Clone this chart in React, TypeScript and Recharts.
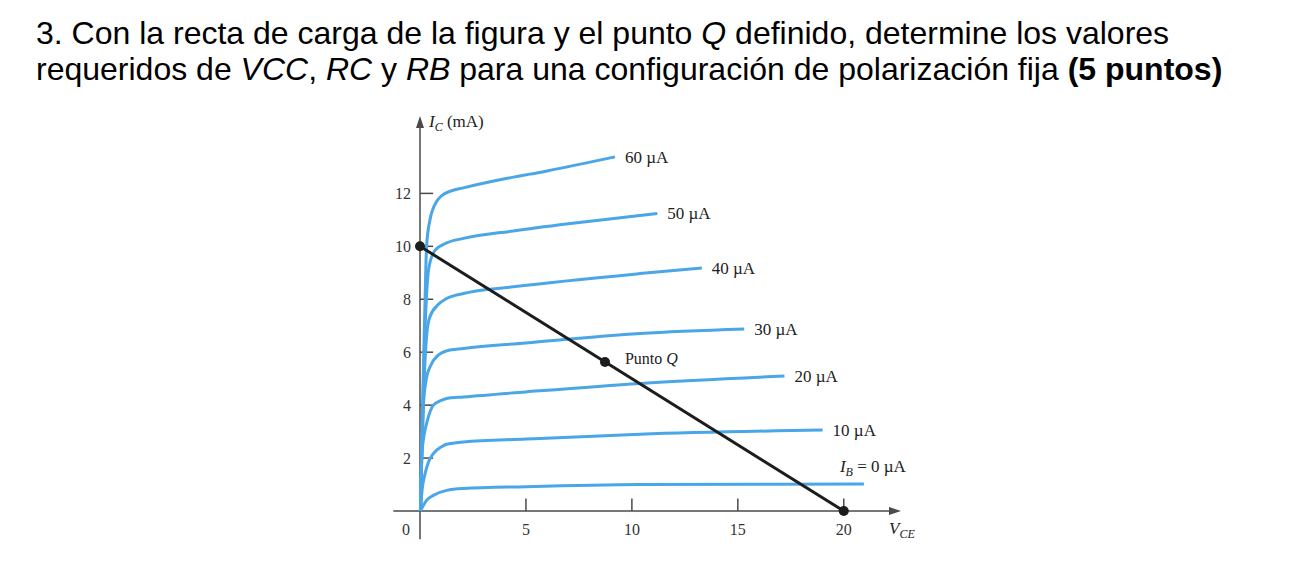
import { ComposedChart, Line, XAxis, YAxis, ReferenceLine, ReferenceDot } from 'recharts'

// output curves: [VCE (V), IC (mA)]
const ib0 = [[0.02, 0], [0.15, 0.2], [0.31, 0.4], [0.63, 0.59], [1.26, 0.78], [2.05, 0.85], [5, 0.92], [10.38, 1.0], [20.95, 1.02]]
const ib10 = [[0.02, 0], [0.1, 0.8], [0.24, 1.41], [0.4, 1.85], [0.63, 2.17], [1.0, 2.42], [1.26, 2.52], [2.05, 2.61], [5, 2.72], [10.38, 2.9], [19, 3.06]]
const ib20 = [[0.02, 0], [0.08, 2], [0.2, 2.9], [0.31, 3.3], [0.63, 4.0], [1.0, 4.18], [1.26, 4.25], [2.05, 4.31], [5, 4.5], [10.38, 4.82], [17.2, 5.1]]
const ib30 = [[0.02, 0], [0.08, 2], [0.16, 4], [0.3, 5], [0.47, 5.44], [0.86, 5.89], [1.26, 6.05], [2.05, 6.14], [5, 6.35], [10.38, 6.71], [15.3, 6.88]]
const ib40 = [[0.02, 0], [0.1, 2.5], [0.2, 5], [0.3, 6.5], [0.45, 7.3], [0.86, 7.8], [1.26, 8.03], [2.05, 8.22], [4.4, 8.47], [10.38, 8.97], [13.3, 9.18]]
const ib50 = [[0.02, 0], [0.1, 3], [0.2, 6], [0.3, 8], [0.42, 9.2], [0.71, 9.85], [1.26, 10.13], [2.05, 10.3], [4.4, 10.58], [7, 10.85], [11.2, 11.24]]
const ib60 = [[0.02, 0], [0.1, 3], [0.18, 6], [0.24, 8], [0.31, 10], [0.47, 11], [0.79, 11.7], [1.0, 11.9], [1.5, 12.1], [2, 12.2], [4, 12.55], [6, 12.85], [9.2, 13.38]]

const curves = [ib0, ib10, ib20, ib30, ib40, ib50, ib60]
const curveLabels = ['0', '10 µA', '20 µA', '30 µA', '40 µA', '50 µA', '60 µA']

const loadLine = [[0, 10], [20, 0]]
const qPoint = [8.73, 5.63]

const xTicks = [0, 5, 10, 15, 20]
const yTicks = [2, 4, 6, 8, 10, 12]
const xMarks = [5, 10, 15, 20]

const BLUE = '#4aa6e6'
const INK = '#1d1d1d'
const AXIS = '#4a4a4a'
const SERIF = '"Liberation Serif", "Times New Roman", serif'

const toPts = (arr: number[][]) => arr.map(([vce, ic]) => ({ vce, ic }))

const XTick = ({ x, y, payload }: any) => (
  <text x={x + (payload.value === 0 ? -14 : 0)} y={y} dy="0.71em" textAnchor="middle" fontFamily={SERIF} fontSize={16} fill="#333">
    {payload.value}
  </text>
)

const YTick = ({ x, y, payload }: any) => (
  <text x={x} y={y} dy="0.35em" textAnchor="end" fontFamily={SERIF} fontSize={16} fill="#333">
    {payload.value}
  </text>
)

function CurveLabel({ cx, cy, text }: any) {
  if (text === '0') {
    return (
      <text x={cx - 24} y={cy - 12} fontFamily={SERIF} fontSize={17} fill="#222">
        <tspan fontStyle="italic">I</tspan>
        <tspan fontStyle="italic" fontSize={12} dy={4}>B</tspan>
        <tspan dy={-4}> = 0 µA</tspan>
      </text>
    )
  }
  return (
    <text x={cx + 10} y={cy} dy="0.35em" fontFamily={SERIF} fontSize={17} fill="#222">
      {text}
    </text>
  )
}

export default function App() {
  return (
    <div style={{ position: 'absolute', left: 0, top: 0, width: 1290, height: 562, background: '#fff' }}>
      <div
        style={{
          position: 'absolute',
          left: 36,
          top: 15,
          fontFamily: '"Liberation Sans", Arial, sans-serif',
          fontSize: 32,
          lineHeight: '36px',
          color: '#000',
          whiteSpace: 'nowrap',
        }}
      >
        <div>
          3. Con la recta de carga de la figura y el punto <i>Q</i> definido, determine los valores
        </div>
        <div>
          requeridos de <i>VCC</i>, <i>RC</i> y <i>RB</i> para una configuración de polarización fija <b>(5 puntos)</b>
        </div>
      </div>

      <div style={{ position: 'absolute', left: 0, top: 0 }}>
        <ComposedChart width={1290} height={562} margin={{ top: 114, right: 389, bottom: 21, left: 360 }}>
          <XAxis
            dataKey="vce"
            type="number"
            domain={[0, 22.7]}
            ticks={xTicks}
            axisLine={false}
            tickLine={false}
            tickSize={0}
            tickMargin={13}
            height={30}
            tick={<XTick />}
          />
          <YAxis
            type="number"
            domain={[0, 15]}
            ticks={yTicks}
            axisLine={false}
            tickLine={false}
            tickSize={0}
            tickMargin={9}
            width={60}
            tick={<YTick />}
          />

          {/* axes drawn through the origin, running a little past it */}
          <ReferenceLine segment={[{ x: -1.26, y: 0 }, { x: 22.2, y: 0 }]} stroke={AXIS} strokeWidth={1.5} ifOverflow="visible" />
          <ReferenceLine segment={[{ x: 0, y: -1.07 }, { x: 0, y: 14.5 }]} stroke={AXIS} strokeWidth={1.5} ifOverflow="visible" />
          {yTicks.map((v) => (
            <ReferenceLine key={'yt' + v} segment={[{ x: 0, y: v }, { x: 0.62, y: v }]} stroke={AXIS} strokeWidth={1.5} />
          ))}
          {xMarks.map((v) => (
            <ReferenceLine key={'xt' + v} segment={[{ x: v, y: 0 }, { x: v, y: 0.47 }]} stroke={AXIS} strokeWidth={1.5} />
          ))}

          <ReferenceDot
            x={0}
            y={14.92}
            ifOverflow="visible"
            shape={(p: any) => (
              <g>
                <path d={`M${p.cx},${p.cy} L${p.cx - 4},${p.cy + 12} L${p.cx + 4},${p.cy + 12} Z`} fill={AXIS} />
                <text x={p.cx + 9} y={p.cy + 11} fontFamily={SERIF} fontSize={17} fill="#222">
                  <tspan fontStyle="italic">I</tspan>
                  <tspan fontStyle="italic" fontSize={12} dy={4}>C</tspan>
                  <tspan dy={-4}> (mA)</tspan>
                </text>
              </g>
            )}
          />
          <ReferenceDot
            x={22.7}
            y={0}
            ifOverflow="visible"
            shape={(p: any) => (
              <g>
                <path d={`M${p.cx},${p.cy} L${p.cx - 12},${p.cy - 4} L${p.cx - 12},${p.cy + 4} Z`} fill={AXIS} />
                <text x={p.cx - 12} y={p.cy + 23} fontFamily={SERIF} fontSize={17} fill="#222">
                  <tspan fontStyle="italic">V</tspan>
                  <tspan fontStyle="italic" fontSize={12} dy={4}>CE</tspan>
                </text>
              </g>
            )}
          />

          {curves.map((c, i) => (
            <Line
              key={'ib' + i}
              data={toPts(c)}
              dataKey="ic"
              type="monotone"
              stroke={BLUE}
              strokeWidth={3}
              dot={false}
              isAnimationActive={false}
            />
          ))}
          {curves.map((c, i) => (
            <ReferenceDot
              key={'lb' + i}
              x={c[c.length - 1][0]}
              y={c[c.length - 1][1]}
              ifOverflow="visible"
              shape={(p: any) => <CurveLabel cx={p.cx} cy={p.cy} text={curveLabels[i]} />}
            />
          ))}

          <Line
            data={toPts(loadLine)}
            dataKey="ic"
            type="linear"
            stroke={INK}
            strokeWidth={3}
            dot={{ r: 5, fill: INK, stroke: INK, strokeWidth: 0 }}
            isAnimationActive={false}
          />
          <ReferenceDot
            x={qPoint[0]}
            y={qPoint[1]}
            ifOverflow="visible"
            shape={(p: any) => (
              <g>
                <circle cx={p.cx} cy={p.cy} r={5} fill={INK} />
                <text x={p.cx + 20} y={p.cy - 4} dy="0.35em" fontFamily={SERIF} fontSize={16} fill="#222">
                  Punto <tspan fontStyle="italic">Q</tspan>
                </text>
              </g>
            )}
          />
        </ComposedChart>
      </div>
    </div>
  )
}
